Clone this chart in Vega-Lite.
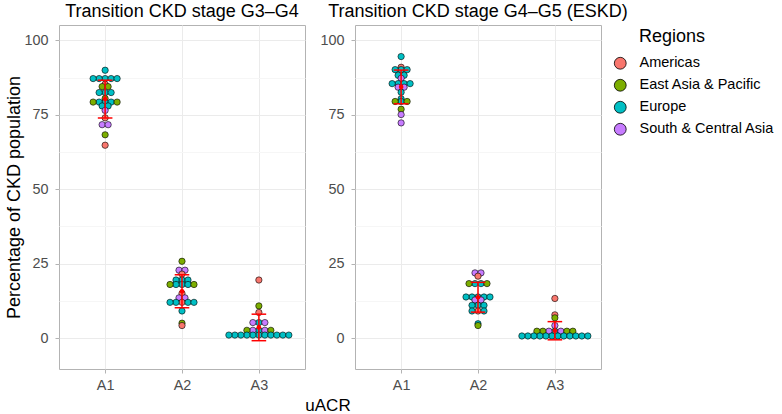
{
  "$schema": "https://vega.github.io/schema/vega-lite/v6.json",
  "background": "white",
  "padding": {"left": 5, "top": 2, "right": 3, "bottom": 2},
  "data": {"values": [
    {"stage":"G3–G4","uACR":"A1","region":"Europe","value":90.0},
    {"stage":"G3–G4","uACR":"A1","region":"Europe","value":87.2},
    {"stage":"G3–G4","uACR":"A1","region":"Europe","value":87.2},
    {"stage":"G3–G4","uACR":"A1","region":"Europe","value":87.2},
    {"stage":"G3–G4","uACR":"A1","region":"Europe","value":87.2},
    {"stage":"G3–G4","uACR":"A1","region":"Europe","value":87.2},
    {"stage":"G3–G4","uACR":"A1","region":"Americas","value":85.3},
    {"stage":"G3–G4","uACR":"A1","region":"East Asia & Pacific","value":84.5},
    {"stage":"G3–G4","uACR":"A1","region":"East Asia & Pacific","value":84.5},
    {"stage":"G3–G4","uACR":"A1","region":"Europe","value":82.5},
    {"stage":"G3–G4","uACR":"A1","region":"Europe","value":82.5},
    {"stage":"G3–G4","uACR":"A1","region":"Europe","value":82.5},
    {"stage":"G3–G4","uACR":"A1","region":"East Asia & Pacific","value":80.5},
    {"stage":"G3–G4","uACR":"A1","region":"Europe","value":79.3},
    {"stage":"G3–G4","uACR":"A1","region":"Europe","value":79.3},
    {"stage":"G3–G4","uACR":"A1","region":"Europe","value":79.3},
    {"stage":"G3–G4","uACR":"A1","region":"East Asia & Pacific","value":79.3},
    {"stage":"G3–G4","uACR":"A1","region":"East Asia & Pacific","value":79.3},
    {"stage":"G3–G4","uACR":"A1","region":"Europe","value":78.0},
    {"stage":"G3–G4","uACR":"A1","region":"Europe","value":78.0},
    {"stage":"G3–G4","uACR":"A1","region":"South & Central Asia","value":76.5},
    {"stage":"G3–G4","uACR":"A1","region":"Americas","value":74.0},
    {"stage":"G3–G4","uACR":"A1","region":"South & Central Asia","value":71.7},
    {"stage":"G3–G4","uACR":"A1","region":"South & Central Asia","value":71.7},
    {"stage":"G3–G4","uACR":"A1","region":"East Asia & Pacific","value":68.3},
    {"stage":"G3–G4","uACR":"A1","region":"Americas","value":64.8},

    {"stage":"G3–G4","uACR":"A2","region":"East Asia & Pacific","value":25.8},
    {"stage":"G3–G4","uACR":"A2","region":"South & Central Asia","value":22.8},
    {"stage":"G3–G4","uACR":"A2","region":"South & Central Asia","value":22.8},
    {"stage":"G3–G4","uACR":"A2","region":"Americas","value":21.5},
    {"stage":"G3–G4","uACR":"A2","region":"Europe","value":19.5},
    {"stage":"G3–G4","uACR":"A2","region":"Europe","value":19.5},
    {"stage":"G3–G4","uACR":"A2","region":"Europe","value":19.5},
    {"stage":"G3–G4","uACR":"A2","region":"Europe","value":18.0},
    {"stage":"G3–G4","uACR":"A2","region":"Europe","value":18.0},
    {"stage":"G3–G4","uACR":"A2","region":"Europe","value":18.0},
    {"stage":"G3–G4","uACR":"A2","region":"East Asia & Pacific","value":18.0},
    {"stage":"G3–G4","uACR":"A2","region":"East Asia & Pacific","value":18.0},
    {"stage":"G3–G4","uACR":"A2","region":"Americas","value":15.0},
    {"stage":"G3–G4","uACR":"A2","region":"South & Central Asia","value":13.5},
    {"stage":"G3–G4","uACR":"A2","region":"South & Central Asia","value":13.5},
    {"stage":"G3–G4","uACR":"A2","region":"Americas","value":12.0},
    {"stage":"G3–G4","uACR":"A2","region":"Europe","value":12.0},
    {"stage":"G3–G4","uACR":"A2","region":"Europe","value":12.0},
    {"stage":"G3–G4","uACR":"A2","region":"Europe","value":12.0},
    {"stage":"G3–G4","uACR":"A2","region":"Europe","value":12.0},
    {"stage":"G3–G4","uACR":"A2","region":"Europe","value":9.1},
    {"stage":"G3–G4","uACR":"A2","region":"East Asia & Pacific","value":5.0},
    {"stage":"G3–G4","uACR":"A2","region":"Americas","value":4.2},

    {"stage":"G3–G4","uACR":"A3","region":"Americas","value":19.5},
    {"stage":"G3–G4","uACR":"A3","region":"East Asia & Pacific","value":10.8},
    {"stage":"G3–G4","uACR":"A3","region":"Americas","value":8.6},
    {"stage":"G3–G4","uACR":"A3","region":"Europe","value":5.2},
    {"stage":"G3–G4","uACR":"A3","region":"South & Central Asia","value":5.2},
    {"stage":"G3–G4","uACR":"A3","region":"South & Central Asia","value":5.2},
    {"stage":"G3–G4","uACR":"A3","region":"Europe","value":2.6},
    {"stage":"G3–G4","uACR":"A3","region":"South & Central Asia","value":2.6},
    {"stage":"G3–G4","uACR":"A3","region":"South & Central Asia","value":2.6},
    {"stage":"G3–G4","uACR":"A3","region":"East Asia & Pacific","value":2.6},
    {"stage":"G3–G4","uACR":"A3","region":"East Asia & Pacific","value":2.6},
    {"stage":"G3–G4","uACR":"A3","region":"Europe","value":1.0},
    {"stage":"G3–G4","uACR":"A3","region":"Europe","value":1.0},
    {"stage":"G3–G4","uACR":"A3","region":"Europe","value":1.0},
    {"stage":"G3–G4","uACR":"A3","region":"Europe","value":1.0},
    {"stage":"G3–G4","uACR":"A3","region":"Europe","value":1.0},
    {"stage":"G3–G4","uACR":"A3","region":"Europe","value":1.0},
    {"stage":"G3–G4","uACR":"A3","region":"Europe","value":1.0},
    {"stage":"G3–G4","uACR":"A3","region":"Europe","value":1.0},
    {"stage":"G3–G4","uACR":"A3","region":"Europe","value":1.0},
    {"stage":"G3–G4","uACR":"A3","region":"Europe","value":1.0},
    {"stage":"G3–G4","uACR":"A3","region":"Europe","value":1.0},

    {"stage":"G4–G5","uACR":"A1","region":"Europe","value":94.6},
    {"stage":"G4–G5","uACR":"A1","region":"Americas","value":91.0},
    {"stage":"G4–G5","uACR":"A1","region":"Europe","value":90.2},
    {"stage":"G4–G5","uACR":"A1","region":"Europe","value":90.2},
    {"stage":"G4–G5","uACR":"A1","region":"Europe","value":90.2},
    {"stage":"G4–G5","uACR":"A1","region":"Europe","value":88.3},
    {"stage":"G4–G5","uACR":"A1","region":"Europe","value":88.3},
    {"stage":"G4–G5","uACR":"A1","region":"South & Central Asia","value":87.3},
    {"stage":"G4–G5","uACR":"A1","region":"Europe","value":85.5},
    {"stage":"G4–G5","uACR":"A1","region":"Europe","value":85.5},
    {"stage":"G4–G5","uACR":"A1","region":"Europe","value":85.5},
    {"stage":"G4–G5","uACR":"A1","region":"Europe","value":85.5},
    {"stage":"G4–G5","uACR":"A1","region":"South & Central Asia","value":84.3},
    {"stage":"G4–G5","uACR":"A1","region":"South & Central Asia","value":84.3},
    {"stage":"G4–G5","uACR":"A1","region":"Europe","value":82.6},
    {"stage":"G4–G5","uACR":"A1","region":"Europe","value":80.4},
    {"stage":"G4–G5","uACR":"A1","region":"Europe","value":79.5},
    {"stage":"G4–G5","uACR":"A1","region":"East Asia & Pacific","value":79.5},
    {"stage":"G4–G5","uACR":"A1","region":"East Asia & Pacific","value":79.5},
    {"stage":"G4–G5","uACR":"A1","region":"East Asia & Pacific","value":76.9},
    {"stage":"G4–G5","uACR":"A1","region":"South & Central Asia","value":75.1},
    {"stage":"G4–G5","uACR":"A1","region":"South & Central Asia","value":72.3},

    {"stage":"G4–G5","uACR":"A2","region":"South & Central Asia","value":21.9},
    {"stage":"G4–G5","uACR":"A2","region":"South & Central Asia","value":21.9},
    {"stage":"G4–G5","uACR":"A2","region":"Americas","value":20.8},
    {"stage":"G4–G5","uACR":"A2","region":"Europe","value":18.3},
    {"stage":"G4–G5","uACR":"A2","region":"Europe","value":18.3},
    {"stage":"G4–G5","uACR":"A2","region":"East Asia & Pacific","value":18.3},
    {"stage":"G4–G5","uACR":"A2","region":"East Asia & Pacific","value":18.3},
    {"stage":"G4–G5","uACR":"A2","region":"Europe","value":13.8},
    {"stage":"G4–G5","uACR":"A2","region":"Europe","value":13.8},
    {"stage":"G4–G5","uACR":"A2","region":"Europe","value":13.8},
    {"stage":"G4–G5","uACR":"A2","region":"Europe","value":13.8},
    {"stage":"G4–G5","uACR":"A2","region":"Europe","value":13.8},
    {"stage":"G4–G5","uACR":"A2","region":"South & Central Asia","value":12.8},
    {"stage":"G4–G5","uACR":"A2","region":"South & Central Asia","value":12.8},
    {"stage":"G4–G5","uACR":"A2","region":"Europe","value":11.0},
    {"stage":"G4–G5","uACR":"A2","region":"Europe","value":11.0},
    {"stage":"G4–G5","uACR":"A2","region":"Europe","value":11.0},
    {"stage":"G4–G5","uACR":"A2","region":"Americas","value":9.1},
    {"stage":"G4–G5","uACR":"A2","region":"Europe","value":9.1},
    {"stage":"G4–G5","uACR":"A2","region":"Europe","value":9.1},
    {"stage":"G4–G5","uACR":"A2","region":"Europe","value":4.8},
    {"stage":"G4–G5","uACR":"A2","region":"East Asia & Pacific","value":4.2},

    {"stage":"G4–G5","uACR":"A3","region":"Americas","value":13.3},
    {"stage":"G4–G5","uACR":"A3","region":"Americas","value":7.8},
    {"stage":"G4–G5","uACR":"A3","region":"East Asia & Pacific","value":6.8},
    {"stage":"G4–G5","uACR":"A3","region":"South & Central Asia","value":4.2},
    {"stage":"G4–G5","uACR":"A3","region":"Europe","value":2.3},
    {"stage":"G4–G5","uACR":"A3","region":"South & Central Asia","value":2.3},
    {"stage":"G4–G5","uACR":"A3","region":"South & Central Asia","value":2.3},
    {"stage":"G4–G5","uACR":"A3","region":"East Asia & Pacific","value":2.3},
    {"stage":"G4–G5","uACR":"A3","region":"East Asia & Pacific","value":2.3},
    {"stage":"G4–G5","uACR":"A3","region":"East Asia & Pacific","value":2.3},
    {"stage":"G4–G5","uACR":"A3","region":"East Asia & Pacific","value":2.3},
    {"stage":"G4–G5","uACR":"A3","region":"Europe","value":0.7},
    {"stage":"G4–G5","uACR":"A3","region":"Europe","value":0.7},
    {"stage":"G4–G5","uACR":"A3","region":"Europe","value":0.7},
    {"stage":"G4–G5","uACR":"A3","region":"Europe","value":0.7},
    {"stage":"G4–G5","uACR":"A3","region":"Europe","value":0.7},
    {"stage":"G4–G5","uACR":"A3","region":"Europe","value":0.7},
    {"stage":"G4–G5","uACR":"A3","region":"Europe","value":0.7},
    {"stage":"G4–G5","uACR":"A3","region":"Europe","value":0.7},
    {"stage":"G4–G5","uACR":"A3","region":"Europe","value":0.7},
    {"stage":"G4–G5","uACR":"A3","region":"Europe","value":0.7},
    {"stage":"G4–G5","uACR":"A3","region":"Europe","value":0.7},
    {"stage":"G4–G5","uACR":"A3","region":"Europe","value":0.7}
  ]},
  "transform": [
    {"calculate": "indexof(['A1','A2','A3'], datum.uACR) + 1", "as": "pos"},
    {"calculate": "indexof(['Americas','Europe','South & Central Asia','East Asia & Pacific'], datum.region)", "as": "rk"},
    {"window": [{"op": "row_number", "as": "rn"}, {"op": "count", "as": "n"}], "groupby": ["stage", "uACR", "value"], "sort": [{"field": "rk"}], "frame": [null, null]},
    {"calculate": "datum.rn - 1", "as": "k"},
    {"calculate": "datum.n % 2 == 1 ? (datum.k % 2 == 1 ? -1 : 1) * ceil(datum.k / 2) : (datum.k % 2 == 0 ? -1 : 1) * (floor(datum.k / 2) + 0.5)", "as": "slot"},
    {"calculate": "datum.pos + datum.slot * 0.078", "as": "xp"}
  ],
  "title": {"text": "uACR", "orient": "bottom", "anchor": "middle", "frame": "group", "fontSize": 17, "fontWeight": "normal", "font": "Liberation Sans", "color": "black", "offset": 6, "dx": 269},
  "spacing": 13,
  "resolve": {"scale": {"color": "shared"}},
  "hconcat": [
    {
      "width": 246, "height": 344,
      "title": {"text": "Transition CKD stage G3–G4"},
      "transform": [{"filter": "datum.stage == 'G3–G4'"}],
      "layer": [
        {
          "mark": {"type": "point", "filled": true, "shape": "circle", "size": 40, "stroke": "black", "strokeWidth": 0.6, "opacity": 1},
          "encoding": {
            "x": {"field": "xp", "type": "quantitative", "title": null, "scale": {"domain": [0.4, 3.6], "nice": false, "zero": false}, "axis": {"values": [1, 2, 3], "labelExpr": "['', 'A1', 'A2', 'A3'][datum.value]"}},
            "y": {"field": "value", "type": "quantitative", "title": "Percentage of CKD population", "scale": {"domain": [-10.4, 105.2], "nice": false, "zero": false}, "axis": {"values": [0, 12.5, 25, 37.5, 50, 62.5, 75, 87.5, 100], "labelExpr": "datum.value % 25 == 0 ? datum.label : ''", "gridColor": {"condition": {"test": "datum.value % 25 != 0", "value": "#f6f6f6"}, "value": "#ebebeb"}, "tickColor": {"condition": {"test": "datum.value % 25 != 0", "value": "transparent"}, "value": "#b3b3b3"}}},
            "color": {"field": "region", "type": "nominal", "title": "Regions", "scale": {"domain": ["Americas", "East Asia & Pacific", "Europe", "South & Central Asia"], "range": ["#F8766D", "#7CAE00", "#00BFC4", "#C77CFF"]}}
          }
        },
        {
          "transform": [
            {"aggregate": [{"op": "mean", "field": "value", "as": "m"}, {"op": "stdev", "field": "value", "as": "s"}], "groupby": ["pos"]},
            {"calculate": "datum.m - datum.s", "as": "lo"},
            {"calculate": "datum.m + datum.s", "as": "hi"},
            {"calculate": "datum.pos - 0.095", "as": "xl"},
            {"calculate": "datum.pos + 0.095", "as": "xr"}
          ],
          "layer": [
            {"mark": {"type": "rule", "color": "#FF0000", "strokeWidth": 1.5}, "encoding": {"x": {"field": "pos", "type": "quantitative", "title": null}, "y": {"field": "lo", "type": "quantitative", "title": "Percentage of CKD population"}, "y2": {"field": "hi"}}},
            {"mark": {"type": "rule", "color": "#FF0000", "strokeWidth": 1.5}, "encoding": {"x": {"field": "xl", "type": "quantitative", "title": null}, "x2": {"field": "xr"}, "y": {"field": "lo", "type": "quantitative", "title": "Percentage of CKD population"}}},
            {"mark": {"type": "rule", "color": "#FF0000", "strokeWidth": 1.5}, "encoding": {"x": {"field": "xl", "type": "quantitative", "title": null}, "x2": {"field": "xr"}, "y": {"field": "hi", "type": "quantitative", "title": "Percentage of CKD population"}}},
            {"mark": {"type": "point", "filled": true, "shape": "circle", "size": 22, "color": "#FF0000", "opacity": 1}, "encoding": {"x": {"field": "pos", "type": "quantitative", "title": null}, "y": {"field": "m", "type": "quantitative", "title": "Percentage of CKD population"}}}
          ]
        }
      ]
    },
    {
      "width": 246, "height": 344,
      "title": {"text": "Transition CKD stage G4–G5 (ESKD)"},
      "transform": [{"filter": "datum.stage == 'G4–G5'"}],
      "layer": [
        {
          "mark": {"type": "point", "filled": true, "shape": "circle", "size": 40, "stroke": "black", "strokeWidth": 0.6, "opacity": 1},
          "encoding": {
            "x": {"field": "xp", "type": "quantitative", "title": null, "scale": {"domain": [0.4, 3.6], "nice": false, "zero": false}, "axis": {"values": [1, 2, 3], "labelExpr": "['', 'A1', 'A2', 'A3'][datum.value]"}},
            "y": {"field": "value", "type": "quantitative", "title": null, "scale": {"domain": [-10.4, 105.2], "nice": false, "zero": false}, "axis": {"values": [0, 12.5, 25, 37.5, 50, 62.5, 75, 87.5, 100], "labelExpr": "datum.value % 25 == 0 ? datum.label : ''", "gridColor": {"condition": {"test": "datum.value % 25 != 0", "value": "#f6f6f6"}, "value": "#ebebeb"}, "tickColor": {"condition": {"test": "datum.value % 25 != 0", "value": "transparent"}, "value": "#b3b3b3"}}},
            "color": {"field": "region", "type": "nominal", "title": "Regions", "scale": {"domain": ["Americas", "East Asia & Pacific", "Europe", "South & Central Asia"], "range": ["#F8766D", "#7CAE00", "#00BFC4", "#C77CFF"]}}
          }
        },
        {
          "transform": [
            {"aggregate": [{"op": "mean", "field": "value", "as": "m"}, {"op": "stdev", "field": "value", "as": "s"}], "groupby": ["pos"]},
            {"calculate": "datum.m - datum.s", "as": "lo"},
            {"calculate": "datum.m + datum.s", "as": "hi"},
            {"calculate": "datum.pos - 0.095", "as": "xl"},
            {"calculate": "datum.pos + 0.095", "as": "xr"}
          ],
          "layer": [
            {"mark": {"type": "rule", "color": "#FF0000", "strokeWidth": 1.5}, "encoding": {"x": {"field": "pos", "type": "quantitative", "title": null}, "y": {"field": "lo", "type": "quantitative", "title": null}, "y2": {"field": "hi"}}},
            {"mark": {"type": "rule", "color": "#FF0000", "strokeWidth": 1.5}, "encoding": {"x": {"field": "xl", "type": "quantitative", "title": null}, "x2": {"field": "xr"}, "y": {"field": "lo", "type": "quantitative", "title": null}}},
            {"mark": {"type": "rule", "color": "#FF0000", "strokeWidth": 1.5}, "encoding": {"x": {"field": "xl", "type": "quantitative", "title": null}, "x2": {"field": "xr"}, "y": {"field": "hi", "type": "quantitative", "title": null}}},
            {"mark": {"type": "point", "filled": true, "shape": "circle", "size": 22, "color": "#FF0000", "opacity": 1}, "encoding": {"x": {"field": "pos", "type": "quantitative", "title": null}, "y": {"field": "m", "type": "quantitative", "title": null}}}
          ]
        }
      ]
    }
  ],
  "config": {
    "font": "Liberation Sans",
    "view": {"stroke": "#b3b3b3", "strokeWidth": 1},
    "axis": {"labelFontSize": 14.4, "labelColor": "#4d4d4d", "labelFont": "Liberation Sans", "tickColor": "#b3b3b3", "tickSize": 4, "domain": false, "gridColor": "#ebebeb", "gridWidth": 1, "titleFontSize": 18, "titleFontWeight": "normal", "titleColor": "black", "titleFont": "Liberation Sans", "labelPadding": 5},
    "axisY": {"titlePadding": 0, "labelPadding": 7},
    "title": {"fontSize": 18, "fontWeight": "normal", "color": "black", "font": "Liberation Sans", "anchor": "middle", "frame": "group", "offset": 4},
    "legend": {"titleFontSize": 18, "titleFontWeight": "normal", "titleColor": "black", "titleFont": "Liberation Sans", "labelFont": "Liberation Sans", "labelFontSize": 14.5, "labelColor": "black", "symbolSize": 140, "symbolStrokeColor": "black", "symbolStrokeWidth": 0.8, "rowPadding": 6, "offset": 7, "padding": 3, "titlePadding": 10, "labelOffset": 12, "symbolOffset": -26}
  }
}
